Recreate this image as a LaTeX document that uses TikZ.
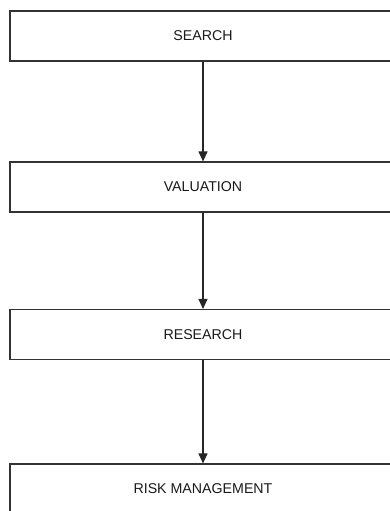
\documentclass[tikz,border=0pt]{standalone}
\usepackage{fontspec}
\setmainfont{Liberation Sans}
\usetikzlibrary{arrows.meta}

\begin{document}
\begin{tikzpicture}[x=1pt,y=1pt,
    stagebox/.style={draw=black!80, line width=1.2pt, rectangle, minimum width=386pt,
      minimum height=50pt, inner sep=0pt, text=black!90, font=\fontsize{14.2}{16}\selectfont},
    flow/.style={draw=black!85, line width=1.1pt, -{Triangle[length=10pt,width=9pt]}}]
                \useasboundingbox (0,0) rectangle (390,-511);
                \clip (0,0) rectangle (390,-511);

                \node[stagebox] (search) at (203,-36) {SEARCH};
                \node[stagebox] (valuation) at (203,-187) {VALUATION};
                \node[stagebox] (research) at (203,-334.5) {RESEARCH};
                \node[stagebox] (risk) at (203,-489) {RISK MANAGEMENT};

                \draw[flow] (search) -- (valuation);
                \draw[flow] (valuation) -- (research);
                \draw[flow] (research) -- (risk);

            \end{tikzpicture}
\end{document}
